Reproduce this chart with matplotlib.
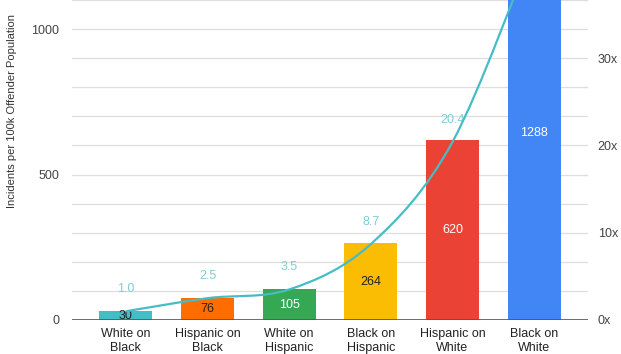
import numpy as np
import matplotlib.pyplot as plt
from matplotlib.path import Path
from matplotlib.patches import PathPatch

plt.rcParams.update({'font.family': ['Liberation Sans', 'DejaVu Sans']})

categories = ['White on\nBlack', 'Hispanic on\nBlack', 'White on\nHispanic',
              'Black on\nHispanic', 'Hispanic on\nWhite', 'Black on\nWhite']
incidents = [30, 76, 105, 264, 620, 1288]
ratio = [1.0, 2.5, 3.5, 8.7, 20.4, 42.9]
ratio_labels = ['1.0', '2.5', '3.5', '8.7', '20.4', '']
bar_colors = ['#46bdc6', '#ff6d01', '#34a853', '#fbbc04', '#ea4335', '#4285f4']
label_colors = ['#222222', '#222222', '#ffffff', '#222222', '#ffffff', '#ffffff']
line_color = '#46bdc6'

ymax = 1100
fig = plt.figure(figsize=(6.21, 3.54), dpi=100)
ax = fig.add_axes([72/621, 34/354, (588-72)/621, 320/354])
x = np.arange(len(categories))

ax.bar(x, incidents, width=0.65, color=bar_colors, zorder=2)
for xi, v, c in zip(x, incidents, label_colors):
    ax.text(xi, v/2, str(v), ha='center', va='center', fontsize=9, color=c, zorder=4)

ax.set_xlim(-0.66, 5.66)
ax.set_ylim(0, ymax)
ax.set_yticks([0, 500, 1000])
ax.set_yticks(np.arange(0, 1101, 100), minor=True)
ax.grid(axis='y', which='both', color='#dedede', linewidth=0.9, zorder=0)
ax.set_axisbelow(True)
ax.axhline(0, color='#555555', linewidth=1.2, zorder=3)
ax.set_xticks(x)
ax.set_xticklabels(categories, fontsize=9, color='#222222', linespacing=1.15)
ax.tick_params(axis='both', length=0, pad=6)
ax.tick_params(axis='y', which='minor', length=0)
ax.tick_params(axis='y', labelsize=9, labelcolor='#444444', pad=9)
for s in ax.spines.values():
    s.set_visible(False)

# ratio axis (1x = 30 incidents)
ax2 = ax.twinx()
ax2.set_ylim(0, ymax/30)
ax2.set_yticks([0, 10, 20, 30])
ax2.set_yticklabels(['0x', '10x', '20x', '30x'])
ax2.tick_params(axis='y', length=0, labelsize=9, labelcolor='#444444', pad=7)
for s in ax2.spines.values():
    s.set_visible(False)

# smooth line through ratio points (Catmull-Rom as Bezier segments)
pts = np.column_stack([x, ratio]).astype(float)
verts = [tuple(pts[0])]
codes = [Path.MOVETO]
n = len(pts)
for i in range(n - 1):
    p0 = pts[max(i - 1, 0)]
    p1 = pts[i]
    p2 = pts[i + 1]
    p3 = pts[min(i + 2, n - 1)]
    c1 = p1 + (p2 - p0) / 6
    c2 = p2 - (p3 - p1) / 6
    verts += [tuple(c1), tuple(c2), tuple(p2)]
    codes += [Path.CURVE4] * 3
ax2.add_patch(PathPatch(Path(verts, codes), facecolor='none',
                        edgecolor=line_color, linewidth=1.6, zorder=5))

for xi, r, t in zip(x, ratio, ratio_labels):
    ax2.annotate(t, (xi, r), xytext=(0, 16), textcoords='offset points',
                 ha='center', va='center', fontsize=9, color='#7fcdd4')

fig.text(12/621, 1 - 111/354, 'Incidents per 100k Offender Population',
         rotation=90, ha='center', va='center', fontsize=8, color='#333333')

fig.savefig('out.png', dpi=100)
